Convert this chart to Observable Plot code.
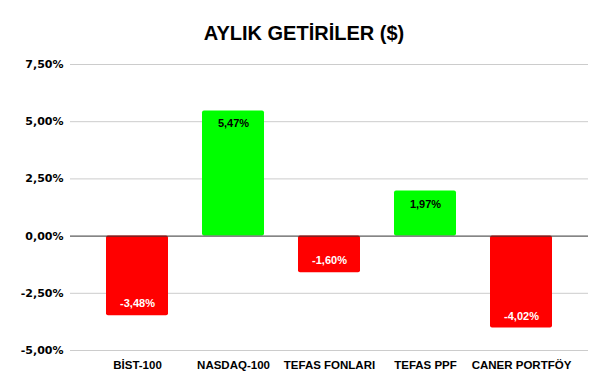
<!DOCTYPE html>
<html>
<head>
<meta charset="utf-8">
<script src="https://cdn.jsdelivr.net/npm/d3@7"></script>
<script src="https://cdn.jsdelivr.net/npm/@observablehq/plot@0.6"></script>
<style>
  body { margin: 0; background: #fff; font-family: "Liberation Sans", Arial, sans-serif; }
  #title { height: 50px; width: 608px; text-align: center; font-weight: bold; font-size: 20px; line-height: 20px; padding-top: 23px; box-sizing: border-box; color: #000; }
</style>
</head>
<body>
<div id="title">AYLIK GETİRİLER ($)</div>
<div id="chart"></div>
<script>
const categories = ["BİST-100", "NASDAQ-100", "TEFAS FONLARI", "TEFAS PPF", "CANER PORTFÖY"];
const values = [-3.48, 5.47, -1.60, 1.97, -4.02];
const yTicks = [-5, -2.5, 0, 2.5, 5, 7.5];

const data = categories.map((c, i) => ({ cat: c, v: values[i] }));
const fmt = v => v.toFixed(2).replace(".", ",") + "%";

const chart = Plot.plot({
  width: 608,
  height: 340,
  marginLeft: 70,
  marginRight: 20,
  marginTop: 14,
  marginBottom: 40,
  style: { fontFamily: "Liberation Sans, Arial, sans-serif", background: "#fff" },
  x: { domain: categories, padding: 0.35, label: null },
  y: { domain: [-5, 7.5], label: null },
  marks: [
    Plot.ruleY(yTicks.filter(d => d !== 0), { stroke: "#cccccc", strokeWidth: 1 }),
    Plot.axisY({ ticks: yTicks, tickSize: 0, tickPadding: 7, tickFormat: fmt, fontWeight: "bold", fontSize: 11, fontFamily: "DejaVu Sans", fill: "#000", label: null }),
    Plot.axisX({ tickSize: 0, tickPadding: 10, fontWeight: "bold", fontSize: 11.5, fill: "#000", label: null }),
    Plot.barY(data, { x: "cat", y: "v", fill: d => d.v >= 0 ? "#00ff00" : "#ff0000", rx: 2 }),
    Plot.ruleY([0], { stroke: "#333333", strokeWidth: 1 }),
    Plot.text(data, {
      x: "cat", y: "v",
      text: d => fmt(d.v),
      fill: "#000",
      fontWeight: "bold", fontSize: 11,
      lineAnchor: "middle",
      filter: d => d.v >= 0,
      dy: 13
    }),
    Plot.text(data, {
      x: "cat", y: "v",
      text: d => fmt(d.v),
      fill: "#fff",
      fontWeight: "bold", fontSize: 11,
      lineAnchor: "middle",
      filter: d => d.v < 0,
      dy: -12
    })
  ]
});
document.getElementById("chart").appendChild(chart);
</script>
</body>
</html>
